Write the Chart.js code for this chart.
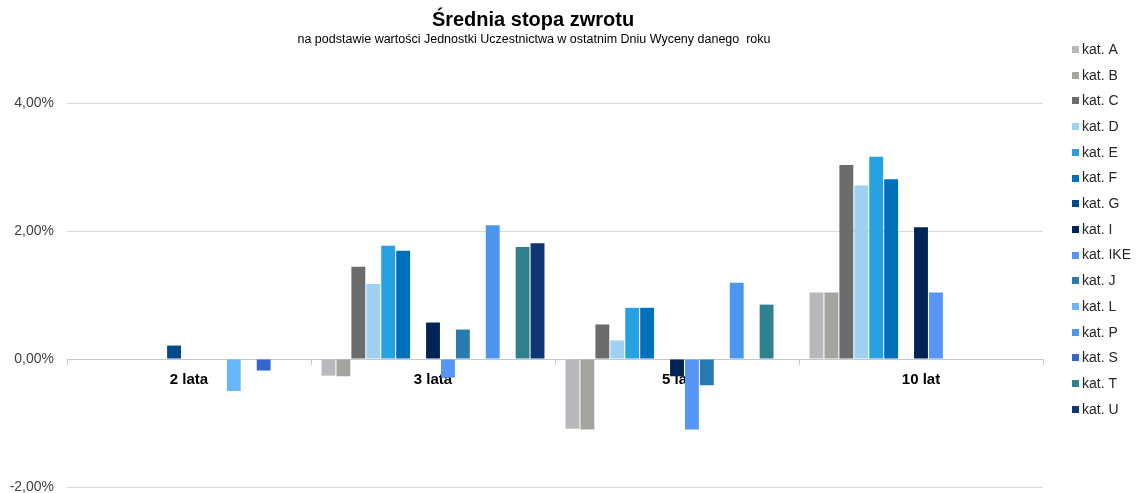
<!DOCTYPE html>
<html>
<head>
<meta charset="utf-8">
<script src="https://cdn.jsdelivr.net/npm/chart.js@4.4.1/dist/chart.umd.min.js"></script>
<style>
  html, body { margin: 0; padding: 0; background: #ffffff; overflow: hidden; }
  #wrap { position: relative; width: 1140px; height: 493px; }
</style>
</head>
<body>
<div id="wrap"><canvas id="c" width="1140" height="493"></canvas></div>
<script>
const titleText = 'Średnia stopa zwrotu';
const subtitleText = 'na podstawie wartości Jednostki Uczestnictwa w ostatnim Dniu Wyceny danego  roku';
const categories = ['2 lata', '3 lata', '5 lat', '10 lat'];
const yTicks = [-2, 0, 2, 4];

const seriesNames = ['kat. A','kat. B','kat. C','kat. D','kat. E','kat. F','kat. G','kat. I','kat. IKE','kat. J','kat. L','kat. P','kat. S','kat. T','kat. U'];
const seriesColors = ['#B8B9BC','#A5A5A0','#6B6C6E','#9FD1F2','#26A2E3','#0070BA','#004A8B','#002356','#5596F7','#2A7AB2','#68B6FC','#4D96F0','#3566CC','#2F8190','#0F3577'];

const katA   = [null, -0.26, -1.09, 1.04];
const katB   = [null, -0.27, -1.10, 1.04];
const katC   = [null,  1.44,  0.54, 3.03];
const katD   = [null,  1.17,  0.29, 2.71];
const katE   = [null,  1.77,  0.80, 3.16];
const katF   = [null,  1.69,  0.80, 2.81];
const katG   = [0.21,  null,  null, null];
const katI   = [null,  0.57, -0.27, 2.06];
const katIKE = [null, -0.29, -1.10, 1.04];
const katJ   = [null,  0.46, -0.41, null];
const katL   = [-0.50, null,  null, null];
const katP   = [null,  2.09,  1.19, null];
const katS   = [-0.18, null,  null, null];
const katT   = [null,  1.75,  0.85, null];
const katU   = [null,  1.81,  null, null];

const seriesValues = [katA,katB,katC,katD,katE,katF,katG,katI,katIKE,katJ,katL,katP,katS,katT,katU];

const datasets = seriesNames.map((name, i) => ({
  label: name,
  data: seriesValues[i],
  backgroundColor: seriesColors[i],
  borderWidth: 0,
  barPercentage: 0.93,
  categoryPercentage: 0.918
}));

const fmt = v => v.toFixed(2).replace('.', ',') + '%';

const titlePlugin = {
  id: 'titles',
  afterDraw(chart) {
    const ctx = chart.ctx;
    ctx.save();
    ctx.fillStyle = '#000000';
    ctx.textAlign = 'center';
    ctx.textBaseline = 'middle';
    ctx.font = 'bold 20px "Liberation Sans", Arial, sans-serif';
    ctx.fillText(titleText, 533, 20);
    ctx.font = '12.5px "Liberation Sans", Arial, sans-serif';
    ctx.fillText(subtitleText, 534, 40);
    ctx.restore();
  }
};

const legendPlugin = {
  id: 'sideLegend',
  afterDraw(chart) {
    const ctx = chart.ctx;
    ctx.save();
    ctx.textAlign = 'left';
    ctx.textBaseline = 'middle';
    ctx.font = '14px "Liberation Sans", Arial, sans-serif';
    chart.data.datasets.forEach((ds, i) => {
      const y = 50 + i * 25.7;
      ctx.fillStyle = ds.backgroundColor;
      ctx.fillRect(1072, Math.round(y - 4), 7, 7);
      ctx.fillStyle = '#262626';
      ctx.fillText(ds.label, 1082, y);
    });
    ctx.restore();
  }
};

new Chart(document.getElementById('c'), {
  type: 'bar',
  data: { labels: categories, datasets },
  options: {
    responsive: false,
    animation: false,
    layout: { padding: { left: 0, right: 97, top: 103, bottom: 6 } },
    plugins: {
      legend: { display: false },
      title: { display: false },
      tooltip: { enabled: false }
    },
    scales: {
      x: {
        position: { y: 0 },
        z: 1,
        offset: true,
        afterFit(scale) { scale.height = 0; },
        grid: {
          offset: true,
          drawOnChartArea: false,
          drawTicks: true,
          tickLength: 5,
          color: '#c8c8c8'
        },
        border: { display: true, color: '#c8c8c8', width: 1 },
        ticks: {
          padding: 7,
          color: '#000000',
          font: { family: '"Liberation Sans", Arial, sans-serif', size: 15, weight: 'bold' }
        }
      },
      y: {
        min: -2,
        max: 4,
        afterFit(scale) {
          scale.width = 67;
          scale.paddingTop = 0;
          scale.paddingBottom = 0;
        },
        afterBuildTicks(scale) { scale.ticks = yTicks.map(v => ({ value: v })); },
        grid: { color: '#d9d9d9', drawTicks: false },
        border: { display: false },
        ticks: {
          padding: 13,
          color: '#404040',
          font: { family: '"Liberation Sans", Arial, sans-serif', size: 14 },
          callback: v => fmt(v)
        }
      }
    }
  },
  plugins: [titlePlugin, legendPlugin]
});
</script>
</body>
</html>
